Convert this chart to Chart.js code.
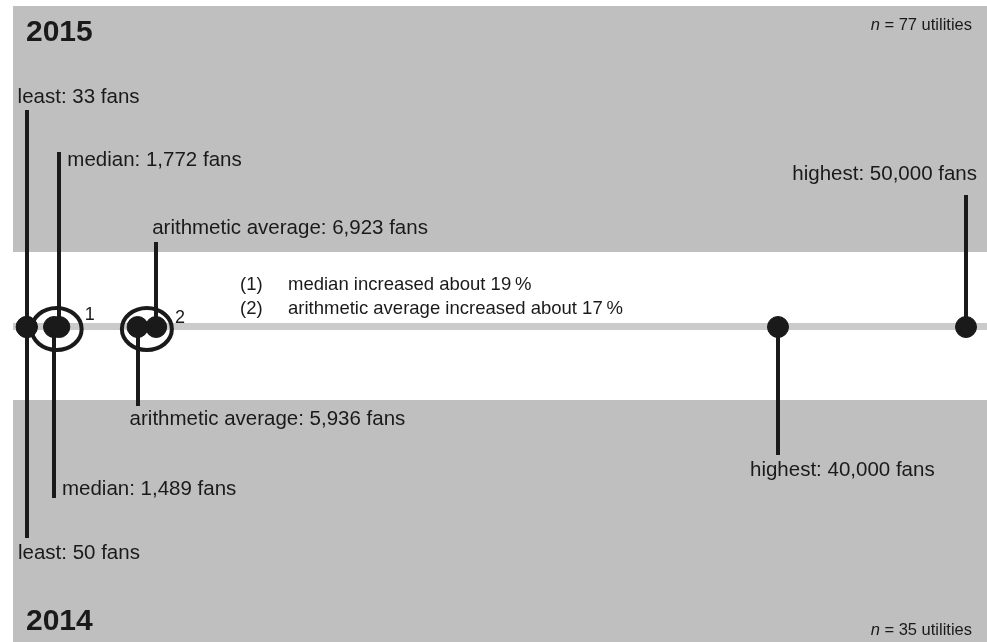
<!DOCTYPE html>
<html>
<head>
<meta charset="utf-8">
<script src="https://cdn.jsdelivr.net/npm/chart.js@4"></script>
<style>
  html, body { margin: 0; padding: 0; background: #fff; }
  #wrap { width: 987px; height: 642px; position: relative; }
</style>
</head>
<body>
<div id="wrap"><canvas id="chart"></canvas></div>
<script>
// values
const measures = ['least', 'median', 'arithmetic average', 'highest'];
const fans2015 = [33, 1772, 6923, 50000];
const fans2014 = [50, 1489, 5936, 40000];
const utilities2015 = 77;
const utilities2014 = 35;
const increasePct = [19, 17];   // (1) median, (2) arithmetic average

// label placement (pixels), one entry per measure
const upStemEnd   = [110, 152, 242, 195];
const upLabelDx   = [-9, 8, -4, 11];
const upLabelY    = [97, 160, 228, 174];
const upAlign     = ['left', 'left', 'left', 'right'];
const downStemEnd = [538, 498, 406, 455];
const downLabelDx = [-9, 8, -8, -28];
const downLabelY  = [553, 489, 419, 470];

const GREY = '#bfbfbf';
const INK = '#1a1a1a';
const FONT = '"Liberation Sans", Arial, sans-serif';

const fmt = v => v.toLocaleString('en-US');

const backdrop = {
    id: 'backdrop',
    beforeDraw(chart) {
        const ctx = chart.ctx;
        const y0 = chart.scales.y.getPixelForValue(0);
        ctx.save();
        ctx.fillStyle = '#fff';
        ctx.fillRect(0, 0, chart.width, chart.height);
        ctx.fillStyle = GREY;
        ctx.fillRect(13, 6, chart.width - 13, 246);
        ctx.fillRect(13, 400, chart.width - 13, chart.height - 400);
        // base line
        ctx.fillStyle = '#cbcbcb';
        ctx.fillRect(13, y0 - 4, chart.width - 13, 7);
        // stems
        const x = chart.scales.x;
        ctx.strokeStyle = INK;
        ctx.lineWidth = 4;
        fans2015.forEach((v, i) => {
            const px = Math.round(x.getPixelForValue(v));
            ctx.beginPath();
            ctx.moveTo(px, y0);
            ctx.lineTo(px, upStemEnd[i]);
            ctx.stroke();
        });
        fans2014.forEach((v, i) => {
            const px = Math.round(x.getPixelForValue(v));
            ctx.beginPath();
            ctx.moveTo(px, y0);
            ctx.lineTo(px, downStemEnd[i]);
            ctx.stroke();
        });
        ctx.restore();
    },
    afterDatasetsDraw(chart) {
        const ctx = chart.ctx;
        const x = chart.scales.x;
        const y0 = chart.scales.y.getPixelForValue(0);
        ctx.save();
        ctx.fillStyle = INK;
        ctx.textBaseline = 'middle';

        // ellipses round the median pair and the average pair
        ctx.strokeStyle = INK;
        ctx.lineWidth = 4;
        [1, 2].forEach((idx, n) => {
            const a = x.getPixelForValue(fans2015[idx]);
            const b = x.getPixelForValue(fans2014[idx]);
            const cx = (a + b) / 2;
            ctx.beginPath();
            ctx.ellipse(cx, y0 + 2, 25, 21, 0, 0, Math.PI * 2);
            ctx.stroke();
            ctx.font = '18px ' + FONT;
            ctx.textAlign = 'left';
            ctx.fillText(String(n + 1), cx + 28, y0 - 12 + n * 3);
        });

        // stem labels
        ctx.font = '20.5px ' + FONT;
        fans2015.forEach((v, i) => {
            const px = x.getPixelForValue(v);
            ctx.textAlign = upAlign[i];
            ctx.fillText(measures[i] + ': ' + fmt(v) + ' fans', px + upLabelDx[i], upLabelY[i]);
        });
        fans2014.forEach((v, i) => {
            const px = x.getPixelForValue(v);
            ctx.textAlign = 'left';
            ctx.fillText(measures[i] + ': ' + fmt(v) + ' fans', px + downLabelDx[i], downLabelY[i]);
        });

        // notes
        ctx.font = '18.5px ' + FONT;
        ctx.textAlign = 'left';
        ctx.fillText('(1)', 240, 285);
        ctx.fillText('median increased about ' + increasePct[0] + '\u2009%', 288, 285);
        ctx.fillText('(2)', 240, 309);
        ctx.fillText('arithmetic average increased about ' + increasePct[1] + '\u2009%', 288, 309);

        // year headings
        ctx.font = 'bold 30px ' + FONT;
        ctx.fillText('2015', 26, 33);
        ctx.fillText('2014', 26, 622);

        // sample sizes
        const nNote = (count, y) => {
            const rest = ' = ' + count + ' utilities';
            ctx.font = '16.5px ' + FONT;
            const wRest = ctx.measureText(rest).width;
            ctx.textAlign = 'right';
            ctx.fillText(rest, 972, y);
            ctx.font = 'italic 16.5px ' + FONT;
            ctx.fillText('n', 972 - wRest, y);
        };
        nNote(utilities2015, 25);
        nNote(utilities2014, 630);
        ctx.restore();
    }
};

new Chart(document.getElementById('chart'), {
    type: 'scatter',
    data: {
        datasets: [
            {
                label: '2015',
                data: fans2015.map(v => ({ x: v, y: 0 })),
                backgroundColor: INK,
                borderColor: INK,
                pointRadius: 10.5,
                pointHoverRadius: 10.5
            },
            {
                label: '2014',
                data: fans2014.map(v => ({ x: v, y: 0 })),
                backgroundColor: INK,
                borderColor: INK,
                pointRadius: 10.5,
                pointHoverRadius: 10.5
            }
        ]
    },
    options: {
        responsive: true,
        maintainAspectRatio: false,
        animation: false,
        layout: { padding: 0, autoPadding: false },
        plugins: {
            legend: { display: false },
            tooltip: { enabled: false }
        },
        scales: {
            x: { type: 'linear', min: -1383, max: 51117, display: false },
            y: { type: 'linear', min: -315, max: 327, display: false }
        }
    },
    plugins: [backdrop]
});
</script>
</body>
</html>
